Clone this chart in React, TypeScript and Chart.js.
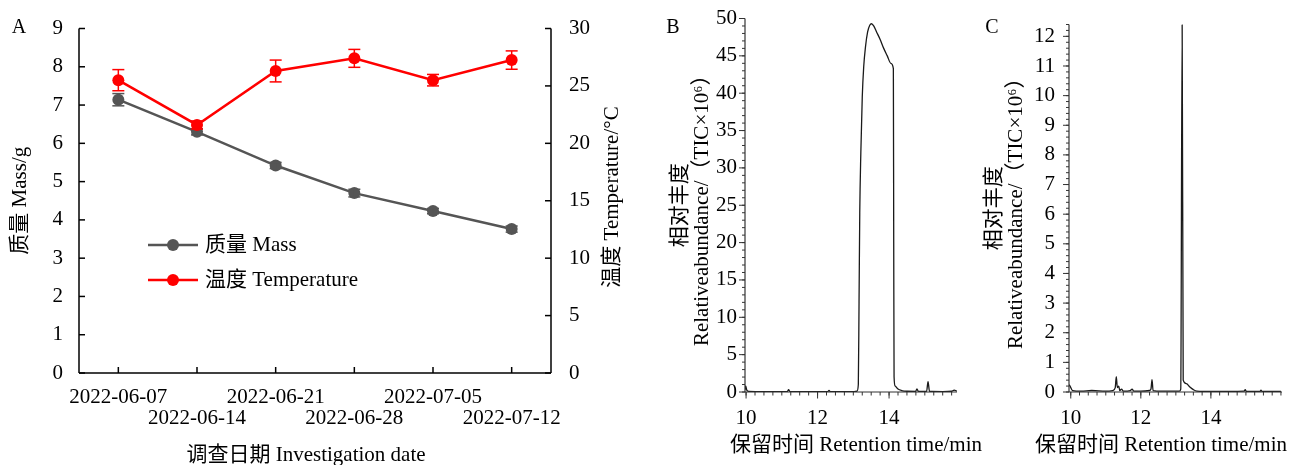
import React, { useEffect, useRef } from 'react';
import { Chart, registerables } from 'chart.js';

Chart.register(...registerables);

const FONT = "'Liberation Serif', 'Times New Roman', 'Noto Sans CJK SC', serif";

// ---------- Panel A data ----------
const dates = ['2022-06-07', '2022-06-14', '2022-06-21', '2022-06-28', '2022-07-05', '2022-07-12'];
const massMean = [7.14, 6.3, 5.42, 4.7, 4.23, 3.76];
const massErr = [0.16, 0.08, 0.08, 0.1, 0.07, 0.08];
const tempMean = [25.5, 21.6, 26.3, 27.4, 25.5, 27.25];
const tempErr = [0.92, 0.35, 0.95, 0.78, 0.5, 0.8];
const massTicks = [0, 1, 2, 3, 4, 5, 6, 7, 8, 9];
const tempTicks = [0, 5, 10, 15, 20, 25, 30];

// ---------- Panel B data ----------
const bTime = [9.97, 9.99, 10.02, 10.08, 10.5, 11.15, 11.19, 11.23, 11.6, 12.28, 12.32, 12.36, 13.0, 13.1, 13.14,
  13.16, 13.18, 13.21, 13.25, 13.29, 13.34, 13.4, 13.46, 13.51, 13.57, 13.65, 13.75, 13.85, 13.95, 14.05, 14.12,
  14.13, 14.14, 14.17, 14.25, 14.35, 14.5, 14.74, 14.78, 14.82, 15.05, 15.09, 15.13, 15.5, 15.75, 15.82, 15.9];
const bAbund = [0.3, 0.8, 0.25, 0.08, 0.05, 0.05, 0.3, 0.05, 0.05, 0.05, 0.2, 0.05, 0.05, 0.1, 1.0,
  12, 24, 32, 39.5, 43.5, 46.2, 48.2, 49.1, 49.3, 49.0, 48.2, 47.2, 46.0, 45.0, 44.0, 43.3,
  20, 2.0, 0.8, 0.4, 0.2, 0.1, 0.08, 0.4, 0.08, 0.1, 1.4, 0.1, 0.05, 0.1, 0.25, 0.1];
const bXTicks = [10, 12, 14];
const bYTicks = [0, 5, 10, 15, 20, 25, 30, 35, 40, 45, 50];

// ---------- Panel C data ----------
const cTime = [9.95, 9.98, 10.05, 10.3, 10.6, 11.0, 11.2, 11.27, 11.3, 11.33, 11.37, 11.4, 11.45, 11.5, 11.7, 11.75,
  11.8, 12.0, 12.25, 12.29, 12.32, 12.35, 12.6, 13.1, 13.14, 13.18, 13.21, 13.3, 13.4, 13.5, 13.6, 14.0, 14.95,
  14.98, 15.01, 15.4, 15.43, 15.46, 16.0];
const cAbund = [0.25, 0.2, 0.05, 0.03, 0.05, 0.03, 0.05, 0.15, 0.52, 0.15, 0.2, 0.05, 0.1, 0.03, 0.05, 0.1,
  0.03, 0.03, 0.05, 0.1, 0.42, 0.05, 0.03, 0.03, 0.1, 12.4, 0.4, 0.28, 0.17, 0.08, 0.03, 0.02, 0.03,
  0.08, 0.02, 0.02, 0.06, 0.02, 0.02];
const cXTicks = [10, 12, 14];
const cYTicks = [0, 1, 2, 3, 4, 5, 6, 7, 8, 9, 10, 11, 12];

const FS = 21;
const fMain = { family: FONT, size: FS, lineHeight: 1 };

function seg(ctx: any, x1: number, y1: number, x2: number, y2: number) {
  ctx.beginPath();
  ctx.moveTo(x1, y1);
  ctx.lineTo(x2, y2);
  ctx.stroke();
}

function txt(ctx: any, s: string, x: number, y: number, align: string = 'center', rot: number = 0, size: number = FS) {
  ctx.save();
  ctx.translate(x, y);
  ctx.rotate(rot);
  ctx.fillStyle = '#000';
  ctx.font = `${size}px ${FONT}`;
  ctx.textAlign = align;
  ctx.textBaseline = 'middle';
  ctx.fillText(s, 0, 0);
  ctx.restore();
}

const errorBarPlugin = {
  id: 'errorBars',
  afterDatasetDraw(chart: any, args: any) {
    const ds = chart.data.datasets[args.index];
    const errs = ds.errors;
    if (!errs) return;
    const meta = chart.getDatasetMeta(args.index);
    const ys = chart.scales[ds.yAxisID];
    const ctx = chart.ctx;
    ctx.save();
    ctx.strokeStyle = ds.borderColor;
    ctx.lineWidth = 1.5;
    meta.data.forEach((pt: any, i: number) => {
      const v = ds.data[i];
      const e = errs[i];
      const x = pt.x;
      const yt = ys.getPixelForValue(v + e);
      const yb = ys.getPixelForValue(v - e);
      seg(ctx, x, yt, x, yb);
      seg(ctx, x - 6, yt, x + 6, yt);
      seg(ctx, x - 6, yb, x + 6, yb);
    });
    ctx.restore();
  },
};

const panelAPlugin = {
  id: 'panelA',
  afterDraw(chart: any) {
    const { ctx, chartArea: a, scales } = chart;
    ctx.save();
    ctx.strokeStyle = '#000';
    ctx.lineWidth = 1.5;
    seg(ctx, a.left, a.top, a.left, a.bottom);
    seg(ctx, a.right, a.top, a.right, a.bottom);
    seg(ctx, a.left, a.bottom, a.right, a.bottom);
    massTicks.forEach((v) => {
      const y = scales.yM.getPixelForValue(v);
      seg(ctx, a.left, y, a.left + 6, y);
    });
    tempTicks.forEach((v) => {
      const y = scales.yT.getPixelForValue(v);
      seg(ctx, a.right, y, a.right - 6, y);
    });
    dates.forEach((_, i) => {
      const x = scales.x.getPixelForValue(i);
      seg(ctx, x, a.bottom, x, a.bottom - 6);
    });
    // legend
    const items = [
      { label: '质量 Mass', color: '#555555', y: 245 },
      { label: '温度 Temperature', color: '#ff0000', y: 280 },
    ];
    items.forEach((it) => {
      ctx.strokeStyle = it.color;
      ctx.lineWidth = 2.5;
      seg(ctx, 148, it.y, 198, it.y);
      ctx.fillStyle = it.color;
      ctx.beginPath();
      ctx.arc(173, it.y, 6, 0, Math.PI * 2);
      ctx.fill();
      txt(ctx, it.label, 205, it.y, 'left');
    });
    txt(ctx, '调查日期 Investigation date', 306, 455, 'center');
    txt(ctx, '温度 Temperature/°C', 612, 197, 'center', -Math.PI / 2);
    txt(ctx, 'A', 19, 28, 'center', 0, 20);
    ctx.restore();
  },
};

function chromPlugin(id: string, xTicksMajor: number[], yTicksMajor: number[], yMinorStep: number, xMinorStep: number, letter: string, letterX: number, titleX: number) {
  return {
    id,
    afterDraw(chart: any) {
      const { ctx, chartArea: a, scales } = chart;
      const xs = scales.x;
      const ys = scales.y;
      ctx.save();
      ctx.strokeStyle = '#333';
      ctx.lineWidth = 1.2;
      seg(ctx, a.left, a.top, a.left, a.bottom);
      seg(ctx, a.left, a.bottom, a.right, a.bottom);
      ctx.lineWidth = 1;
      for (let v = ys.min; v <= ys.max + 1e-6; v += yMinorStep) {
        const y = ys.getPixelForValue(v);
        seg(ctx, a.left, y, a.left - 3, y);
      }
      yTicksMajor.forEach((v) => {
        const y = ys.getPixelForValue(v);
        seg(ctx, a.left, y, a.left - 6, y);
      });
      const start = Math.ceil(xs.min / xMinorStep) * xMinorStep;
      for (let v = start; v <= xs.max + 1e-6; v += xMinorStep) {
        const x = xs.getPixelForValue(v);
        seg(ctx, x, a.bottom, x, a.bottom + 3.5);
      }
      xTicksMajor.forEach((v) => {
        const x = xs.getPixelForValue(v);
        seg(ctx, x, a.bottom, x, a.bottom + 6.5);
      });
      txt(ctx, '保留时间 Retention time/min', titleX, 445, 'center');
      txt(ctx, letter, letterX, 28, 'center', 0, 20);
      ctx.restore();
    },
  };
}

function chromConfig(times: number[], vals: number[], opts: any) {
  return {
    type: 'line',
    data: {
      datasets: [
        {
          data: times.map((t, i) => ({ x: t, y: vals[i] })),
          borderColor: '#1a1a1a',
          borderWidth: 1.3,
          pointRadius: 0,
          cubicInterpolationMode: 'monotone',
          fill: false,
        },
      ],
    },
    options: {
      responsive: false,
      animation: false,
      events: [],
      layout: { padding: { top: opts.top, right: opts.right, left: 0, bottom: 0 } },
      plugins: { legend: { display: false }, tooltip: { enabled: false } },
      scales: {
        x: {
          type: 'linear',
          min: opts.xMin,
          max: opts.xMax,
          afterBuildTicks: (s: any) => {
            s.ticks = opts.xTicks.map((v: number) => ({ value: v }));
          },
          ticks: { padding: 16, color: '#000', font: fMain, maxRotation: 0, autoSkip: false, callback: (v: any) => String(v) },
          grid: { display: false, drawTicks: false },
          border: { display: false },
          afterFit: (s: any) => {
            s.height = 73;
          },
        },
        y: {
          type: 'linear',
          min: 0,
          max: opts.yMax,
          afterBuildTicks: (s: any) => {
            s.ticks = opts.yTicks.map((v: number) => ({ value: v }));
          },
          ticks: { padding: opts.yPad, color: '#000', font: fMain, autoSkip: false, callback: (v: any) => String(v) },
          grid: { display: false, drawTicks: false },
          border: { display: false },
          title: {
            display: true,
            text: ['相对丰度', 'Relativeabundance/（TIC×10⁶）'],
            color: '#000',
            font: { family: FONT, size: FS, lineHeight: 1.05 },
            padding: { top: opts.titlePad, bottom: 0 },
          },
          afterFit: (s: any) => {
            s.width = opts.yWidth;
          },
        },
      },
    },
    plugins: [opts.plugin],
  };
}

function useChart(ref: any, makeConfig: () => any) {
  useEffect(() => {
    if (!ref.current) return;
    const chart = new Chart(ref.current, makeConfig());
    return () => chart.destroy();
  }, []);
}

export default function App() {
  const refA = useRef<HTMLCanvasElement>(null);
  const refB = useRef<HTMLCanvasElement>(null);
  const refC = useRef<HTMLCanvasElement>(null);

  useChart(refA, () => ({
    type: 'line',
    data: {
      labels: dates,
      datasets: [
        {
          label: '温度 Temperature',
          data: tempMean,
          errors: tempErr,
          yAxisID: 'yT',
          borderColor: '#ff0000',
          backgroundColor: '#ff0000',
          pointBackgroundColor: '#ff0000',
          pointBorderColor: '#ff0000',
          borderWidth: 2.5,
          pointRadius: 6,
          pointBorderWidth: 0,
          order: 0,
        },
        {
          label: '质量 Mass',
          data: massMean,
          errors: massErr,
          yAxisID: 'yM',
          borderColor: '#555555',
          backgroundColor: '#555555',
          pointBackgroundColor: '#555555',
          pointBorderColor: '#555555',
          borderWidth: 2.5,
          pointRadius: 6,
          pointBorderWidth: 0,
          order: 1,
        },
      ],
    },
    options: {
      responsive: false,
      animation: false,
      events: [],
      layout: { padding: { top: 26, left: 0, right: 0, bottom: 0 } },
      plugins: { legend: { display: false }, tooltip: { enabled: false } },
      scales: {
        x: {
          type: 'category',
          offset: true,
          grid: { display: false, drawTicks: false },
          border: { display: false },
          ticks: {
            autoSkip: false,
            maxRotation: 0,
            minRotation: 0,
            padding: 14,
            color: '#000',
            font: fMain,
            callback: (_v: any, i: number) => (i % 2 === 0 ? [dates[i], ''] : ['', dates[i]]),
          },
          afterFit: (s: any) => {
            s.height = 92;
          },
        },
        yM: {
          type: 'linear',
          position: 'left',
          min: 0,
          max: 9,
          afterBuildTicks: (s: any) => {
            s.ticks = massTicks.map((v) => ({ value: v }));
          },
          ticks: { padding: 16, color: '#000', font: fMain, callback: (v: any) => String(v) },
          grid: { display: false, drawTicks: false },
          border: { display: false },
          title: {
            display: true,
            text: '质量 Mass/g',
            color: '#000',
            font: fMain,
            padding: { top: 10, bottom: 0 },
          },
          afterFit: (s: any) => {
            s.width = 79;
          },
        },
        yT: {
          type: 'linear',
          position: 'right',
          min: 0,
          max: 30,
          afterBuildTicks: (s: any) => {
            s.ticks = tempTicks.map((v) => ({ value: v }));
          },
          ticks: { padding: 18, color: '#000', font: fMain, callback: (v: any) => String(v) },
          grid: { display: false, drawTicks: false },
          border: { display: false },
          afterFit: (s: any) => {
            s.width = 99;
          },
        },
      },
    },
    plugins: [errorBarPlugin, panelAPlugin],
  }));

  useChart(refB, () =>
    chromConfig(bTime, bAbund, {
      top: 18,
      right: 43,
      xMin: 9.97,
      xMax: 15.9,
      xTicks: bXTicks,
      yMax: 50,
      yTicks: bYTicks,
      yPad: 8,
      titlePad: 19,
      yWidth: 95,
      plugin: chromPlugin('panelB', bXTicks, bYTicks, 1, 0.25, 'B', 23, 206),
    })
  );

  useChart(refC, () =>
    chromConfig(cTime, cAbund, {
      top: 24,
      right: 8,
      xMin: 9.95,
      xMax: 16.03,
      xTicks: cXTicks,
      yMax: 12.4,
      yTicks: cYTicks,
      yPad: 14,
      titlePad: 23,
      yWidth: 109,
      plugin: chromPlugin('panelC', cXTicks, cYTicks, 0.2, 0.25, 'C', 32, 201),
    })
  );

  return (
    <div style={{ position: 'absolute', left: 0, top: 0, width: 1290, height: 465, background: '#fff', overflow: 'hidden' }}>
      <canvas ref={refA} width={650} height={465} style={{ position: 'absolute', left: 0, top: 0 }} />
      <canvas ref={refB} width={350} height={465} style={{ position: 'absolute', left: 650, top: 0 }} />
      <canvas ref={refC} width={330} height={465} style={{ position: 'absolute', left: 960, top: 0 }} />
    </div>
  );
}
